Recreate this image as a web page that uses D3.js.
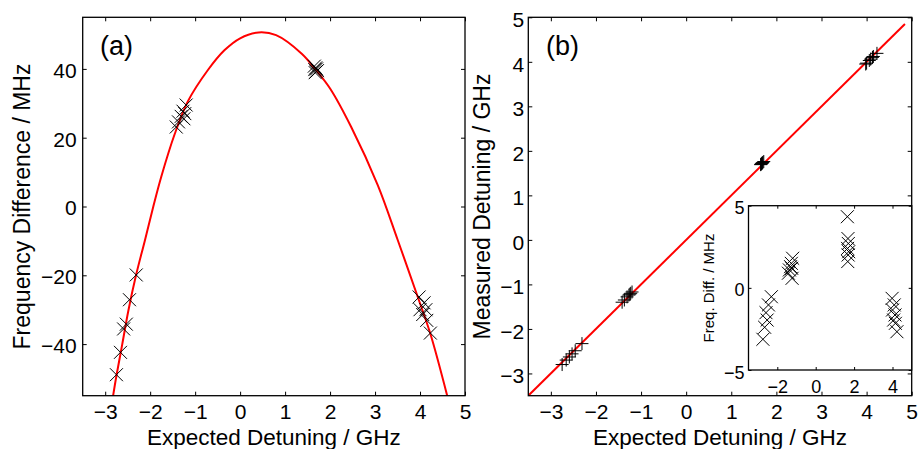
<!DOCTYPE html>
<html><head><meta charset="utf-8">
<script src="https://cdn.jsdelivr.net/npm/d3@7"></script>
<style>
body{margin:0;background:#fff}
text{font-family:"Liberation Sans",Arial,Helvetica,sans-serif;fill:#000}
</style></head>
<body><svg id="chart" width="919" height="449"></svg>
<script>
// ---------------- data ----------------
const expectedDetuning = [
  -2.31,-2.46,-2.53,-2.59,-2.66,-2.75,
  -1.20,-1.27,-1.31,-1.25,-1.37,-1.42,-1.23,
   1.65, 1.68, 1.70, 1.66, 1.72, 1.69, 1.67,
   3.98, 4.09, 4.00, 4.13, 4.06, 4.15, 4.23];
const frequencyDifference = [
  -19.9,-27.1,-34.2,-35.6,-42.4,-48.9,
   29.5, 27.7, 26.2, 25.5, 24.6, 23.1, 27.0,
   40.8, 40.3, 40.0, 39.8, 39.5, 39.2, 38.9,
  -26.3,-28.0,-30.0,-30.0,-31.4,-33.1,-36.8];
const measuredDetuning = [
  -2.33,-2.49,-2.56,-2.63,-2.70,-2.80,
  -1.17,-1.24,-1.28,-1.22,-1.35,-1.40,-1.20,
   1.69, 1.72, 1.74, 1.70, 1.76, 1.73, 1.71,
   3.95, 4.06, 3.97, 4.10, 4.03, 4.12, 4.19];
const residualDiff = [
  -0.54,-1.04,-1.96,-1.51,-2.40,-3.13,
   1.80, 1.49, 1.29, 1.19, 1.09, 0.89, 0.58,
   4.33, 3.00, 2.70, 2.40, 2.20, 2.00, 1.60,
  -0.64,-1.04,-1.35,-1.65,-1.96,-2.16,-2.67];
// fitted curve of panel (a)
const fitX = [-2.83,-2.75,-2.62,-2.485,-2.32,-2.12,-1.93,-1.75,-1.456,-1.16,-0.72,-0.35,0.0,0.41,0.8,1.37,1.665,2.0,2.47,3.06,3.5,3.95,4.23,4.61];
const fitY = [-55.5,-49.2,-40,-30.3,-20.3,-10,0,8.8,21,30.6,39.6,45.4,48.9,50.6,49.8,44.4,40,34.3,23.1,6.2,-9.6,-26.3,-37,-55.3];
// identity fit line of panel (b)
const lineBX = [-3.5, 4.85];
const lineBY = [-3.5, 4.85];

const ticksAX = [-3,-2,-1,0,1,2,3,4,5];
const ticksAY = [-40,-20,0,20,40];
const ticksBX = [-3,-2,-1,0,1,2,3,4,5];
const ticksBY = [-3,-2,-1,0,1,2,3,4,5];
const ticksInsetX = [-2,0,2,4];
const ticksInsetY = [-5,0,5];

const xLabel = "Expected Detuning / GHz";
const yLabelA = "Frequency Difference / MHz";
const yLabelB = "Measured Detuning / GHz";
const yLabelInset = "Freq. Diff. / MHz";

// ---------------- drawing ----------------
const svg = d3.select("#chart");
const RED = "#ff0000";

function makePanel(cfg){
  const g = svg.append("g");
  const x = d3.scaleLinear().domain(cfg.xd).range([cfg.l, cfg.r]);
  const y = d3.scaleLinear().domain(cfg.yd).range([cfg.b, cfg.t]);
  if (cfg.bg) g.append("rect").attr("x",cfg.l).attr("y",cfg.t).attr("width",cfg.r-cfg.l).attr("height",cfg.b-cfg.t).attr("fill","#fff");
  const id = "clip"+Math.round(cfg.l);
  g.append("clipPath").attr("id",id).append("rect").attr("x",cfg.l).attr("y",cfg.t).attr("width",cfg.r-cfg.l).attr("height",cfg.b-cfg.t);
  const ts = cfg.tick, fs = cfg.fs;
  const axB = g.append("g").attr("transform",`translate(0,${cfg.b})`)
    .call(d3.axisBottom(x).tickValues(cfg.xt).tickSizeInner(-ts).tickSizeOuter(0).tickPadding(cfg.xpad));
  const axT = g.append("g").attr("transform",`translate(0,${cfg.t})`)
    .call(d3.axisTop(x).tickValues(cfg.xt).tickSizeInner(-ts).tickSizeOuter(0).tickFormat(""));
  const axL = g.append("g").attr("transform",`translate(${cfg.l},0)`)
    .call(d3.axisLeft(y).tickValues(cfg.yt).tickSizeInner(-ts).tickSizeOuter(0).tickPadding(cfg.ypad));
  const axR = g.append("g").attr("transform",`translate(${cfg.r},0)`)
    .call(d3.axisRight(y).tickValues(cfg.yt).tickSizeInner(-ts).tickSizeOuter(0).tickFormat(""));
  [axB,axT,axL,axR].forEach(a=>{
    a.select(".domain").remove();
    a.selectAll("line").attr("stroke","#000").attr("stroke-width",1);
    a.selectAll("text").attr("font-size",fs).attr("font-family","Liberation Sans, Arial, sans-serif").attr("fill","#000");
  });
  axL.selectAll("text").attr("dy", cfg.ydy);
  const plot = g.append("g").attr("clip-path",`url(#${id})`);
  g.append("rect").attr("x",cfg.l).attr("y",cfg.t).attr("width",cfg.r-cfg.l).attr("height",cfg.b-cfg.t)
    .attr("fill","none").attr("stroke","#000").attr("stroke-width",1.3);
  return {g, x, y, plot};
}

function xMarks(plot, xs, ys, x, y, s){
  plot.append("g").selectAll("path").data(xs.map((v,i)=>[v,ys[i]])).join("path")
    .attr("d",d=>{const cx=x(d[0]), cy=y(d[1]); return `M${cx-s},${cy-s}L${cx+s},${cy+s}M${cx-s},${cy+s}L${cx+s},${cy-s}`;})
    .attr("stroke","#000").attr("stroke-width",1).attr("fill","none");
}
function plusMarks(plot, xs, ys, x, y, s){
  plot.append("g").selectAll("path").data(xs.map((v,i)=>[v,ys[i]])).join("path")
    .attr("d",d=>{const cx=x(d[0]), cy=y(d[1]); return `M${cx-s},${cy}L${cx+s},${cy}M${cx},${cy-s}L${cx},${cy+s}`;})
    .attr("stroke","#000").attr("stroke-width",1).attr("fill","none");
}

// Panel (a)
const A = makePanel({l:82.7,r:465,t:17.3,b:395.7,xd:[-3.5,5],yd:[-55,55],xt:ticksAX,yt:ticksAY,
  tick:4,fs:21,xpad:8,ypad:6,ydy:"0.40em"});
A.plot.append("path").datum(fitX.map((v,i)=>[v,fitY[i]]))
  .attr("d", d3.line().x(d=>A.x(d[0])).y(d=>A.y(d[1])).curve(d3.curveCatmullRom.alpha(0.5)))
  .attr("fill","none").attr("stroke",RED).attr("stroke-width",2);
xMarks(A.plot, expectedDetuning, frequencyDifference, A.x, A.y, 6.5);
A.g.append("text").attr("x",100).attr("y",55).attr("font-size",27).text("(a)");
A.g.append("text").attr("x",(82.7+465)/2).attr("y",444.5).attr("text-anchor","middle").attr("font-size",22.5).text(xLabel);
A.g.append("text").attr("transform","translate(29.5,206.5) rotate(-90)").attr("text-anchor","middle").attr("font-size",23).text(yLabelA);

// Panel (b)
const B = makePanel({l:528.3,r:911.7,t:17.3,b:395.7,xd:[-3.5,5],yd:[-3.5,5],xt:ticksBX,yt:ticksBY,
  tick:4,fs:21,xpad:8,ypad:4,ydy:"0.45em"});
B.plot.append("path").datum(lineBX.map((v,i)=>[v,lineBY[i]]))
  .attr("d", d3.line().x(d=>B.x(d[0])).y(d=>B.y(d[1])))
  .attr("fill","none").attr("stroke",RED).attr("stroke-width",2);
plusMarks(B.plot, expectedDetuning, measuredDetuning, B.x, B.y, 6.5);
B.g.append("text").attr("x",546).attr("y",55).attr("font-size",27).text("(b)");
B.g.append("text").attr("x",(528.3+911.7)/2).attr("y",444.5).attr("text-anchor","middle").attr("font-size",22.5).text(xLabel);
B.g.append("text").attr("transform","translate(490,206.5) rotate(-90)").attr("text-anchor","middle").attr("font-size",23).text(yLabelB);

// Inset
const I = makePanel({l:748.5,r:911.7,t:205.7,b:370,xd:[-3.5,5],yd:[-5,5],xt:ticksInsetX,yt:ticksInsetY,
  tick:3,fs:18,xpad:10,ypad:4,ydy:"0.45em",bg:true});
xMarks(I.plot, expectedDetuning, residualDiff, I.x, I.y, 6.5);
I.g.append("text").attr("transform","translate(713.5,288) rotate(-90)").attr("text-anchor","middle").attr("font-size",15).text(yLabelInset);
</script></body></html>
